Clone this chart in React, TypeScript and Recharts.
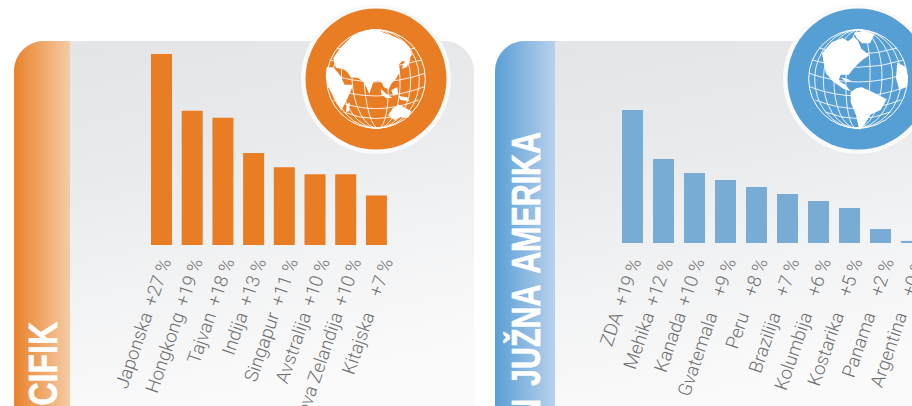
import { BarChart, Bar, XAxis, YAxis } from 'recharts';

const asiaCountries = ['Japonska', 'Hongkong', 'Tajvan', 'Indija', 'Singapur', 'Avstralija', 'Nova Zelandija', 'Kitajska'];
const asiaValues = [27, 19, 18, 13, 11, 10, 10, 7];
const asiaLabels = ['+27 %', '+19 %', '+18 %', '+13 %', '+11 %', '+10 %', '+10 %', '+7 %'];

const americaCountries = ['ZDA', 'Mehika', 'Kanada', 'Gvatemala', 'Peru', 'Brazilija', 'Kolumbija', 'Kostarika', 'Panama', 'Argentina'];
const americaValues = [19, 12, 10, 9, 8, 7, 6, 5, 2, 0.3];
const americaLabels = ['+19 %', '+12 %', '+10 %', '+9 %', '+8 %', '+7 %', '+6 %', '+5 %', '+2 %', '+0 %'];

const ORANGE = '#E87D24';
const BLUE = '#78ACD5';
const GLOBE_BLUE = '#569FD5';

const asiaLand = [
  'M52 122 L70 96 L88 76 L112 54 L135 44 L165 38 L192 42 L220 52 L244 62 L266 74 L280 88 L288 112 L276 130 L258 132 L248 142 L252 164 L240 184 L227 198 L218 216 L204 210 L196 194 L184 190 L172 194 L160 230 L150 208 L143 194 L126 182 L104 180 L94 164 L80 154 L60 152 Z',
  'M32 150 L52 150 L72 174 L86 202 L112 202 L102 226 L92 248 L76 280 L60 256 L48 230 L35 206 L29 176 Z',
  'M216 294 L230 274 L248 262 L264 270 L286 282 L276 302 L254 300 L236 308 Z',
  'M92 262 L102 256 L99 282 L90 284 Z',
  'M274 116 L284 126 L272 150 L258 154 L262 140 Z',
  'M194 214 L214 232 L230 242 L210 242 L196 230 Z',
  'M226 218 L244 210 L246 230 L232 236 Z',
  'M246 236 L274 240 L280 252 L254 248 Z',
];

const americaLand = [
  'M72 108 L102 74 L134 62 L150 72 L168 58 L180 70 L190 94 L214 114 L196 126 L182 138 L168 152 L152 172 L128 172 L122 190 L142 202 L158 222 L136 214 L104 192 L84 168 L76 132 Z',
  'M168 46 L196 40 L230 50 L216 78 L192 78 L176 62 Z',
  'M158 224 L176 212 L192 210 L228 226 L266 246 L248 278 L218 292 L198 324 L184 338 L174 294 L158 254 Z',
  'M298 136 L322 148 L330 176 L328 206 L304 218 L294 182 Z',
  'M128 180 L150 186 L160 191 L140 190 Z',
];

const meridians = [0, 36, 72, 104, 130];
const parallels = [
  { y: 92, half: 118, sag: 18 },
  { y: 128, half: 138, sag: 22 },
  { y: 168, half: 147, sag: 26 },
  { y: 208, half: 146, sag: 28 },
  { y: 248, half: 128, sag: 26 },
  { y: 284, half: 98, sag: 20 },
];

const Globe = ({ left, top, color, land, tilt }: { left: number; top: number; color: string; land: string[]; tilt: number }) => (
  <div style={{ position: 'absolute', left: left - 75, top: top - 75, width: 150, height: 150, borderRadius: '50%', background: '#FAFAFA' }}>
    <svg width={150} height={150} viewBox="0 0 150 150" style={{ position: 'absolute', left: 0, top: 0 }}>
      <circle cx={75} cy={75} r={70.5} fill={color} />
      <g transform="translate(15 13.3) scale(0.3333)">
        <circle cx={180} cy={185} r={148} fill="none" stroke="#fff" strokeWidth={3} />
        <g transform={`rotate(${tilt} 180 185)`} fill="none" stroke="#fff" strokeWidth={2.6}>
          {meridians.map((rx) => (
            <ellipse key={rx} cx={180} cy={185} rx={rx} ry={148} />
          ))}
        </g>
        <g fill="none" stroke="#fff" strokeWidth={2.6}>
          {parallels.map((p) => (
            <path key={p.y} d={`M${180 - p.half} ${p.y} Q180 ${p.y + p.sag * 2} ${180 + p.half} ${p.y}`} />
          ))}
        </g>
        {land.map((d) => (
          <path key={d} d={d} fill="#fff" />
        ))}
      </g>
    </svg>
  </div>
);

// vrednost in ime sta loceni koloni, kot v tabeli
const makeTick = (labels: string[], shift: number, drift: number) => (props: any) => {
  const { x, y, index, payload } = props;
  const px = x + shift + index * drift;
  return (
    <g transform={`translate(${px} ${y}) rotate(-71)`} fontFamily="Roboto, 'Liberation Sans', sans-serif" fontWeight={300} fontSize={18.5} fill="#707070">
      <text x={0} y={0} textAnchor="end">{labels[index]}</text>
      <text x={-57} y={0} textAnchor="end">{payload.value}</text>
    </g>
  );
};

const RegionChart = ({ names, values, labels, color, left, width, marginLeft, marginRight, marginTop, axisHeight, max, tickShift, tickDrift, tickMargin }: any) => {
  const data = names.map((name: string, i: number) => ({ name, value: values[i] }));
  return (
    <div style={{ position: 'absolute', left, top: 0 }}>
      <BarChart width={width} height={406} data={data} margin={{ top: marginTop, right: marginRight, bottom: 0, left: marginLeft }}>
        <XAxis
          dataKey="name"
          axisLine={false}
          tickLine={false}
          tickSize={0}
          tickMargin={tickMargin}
          interval={0}
          height={axisHeight}
          tick={makeTick(labels, tickShift, tickDrift)}
        />
        <YAxis hide domain={[0, max]} />
        <Bar dataKey="value" fill={color} barSize={21} isAnimationActive={false} />
      </BarChart>
    </div>
  );
};

const Panel = ({ left, width, stripWidth, from, to, radius }: any) => (
  <div
    style={{
      position: 'absolute',
      left,
      top: 41,
      width,
      height: 400,
      borderRadius: `${radius}px ${radius}px 0 0`,
      overflow: 'hidden',
      background: 'linear-gradient(168deg, #E3E4E6 0%, #E9EAEB 30%, #F2F3F4 55%, #FAFAFB 80%)',
    }}
  >
    <div style={{ width: stripWidth, height: '100%', background: `linear-gradient(90deg, ${from} 0%, ${to} 100%)` }} />
  </div>
);

export default function App() {
  return (
    <div style={{ position: 'absolute', left: 0, top: 0, width: 912, height: 406, overflow: 'hidden', background: '#fff' }}>
      <Panel left={14} width={460} stripWidth={56} from="#E9822B" to="#F5CCA5" radius={30} />
      <Panel left={495} width={460} stripWidth={60} from="#5A9FD6" to="#B8D1EC" radius={30} />

      <svg width={912} height={406} style={{ position: 'absolute', left: 0, top: 0 }}>
        <g fontFamily="'Liberation Sans', sans-serif" fontWeight={700} fontSize={40} fill="#fff" stroke="#fff" strokeWidth={0.6}>
          <text transform="translate(57 322) rotate(-90) scale(0.8 1)" textAnchor="end">AZIJA IN PACIFIK</text>
          <text transform="translate(539.5 132) rotate(-90) scale(0.76 1)" textAnchor="end" wordSpacing={6}>SEVERNA IN JUŽNA AMERIKA</text>
        </g>
      </svg>

      <Globe left={376} top={79} color={ORANGE} land={asiaLand} tilt={-3} />
      <Globe left={858} top={79} color={GLOBE_BLUE} land={americaLand} tilt={2} />

      <RegionChart
        names={asiaCountries}
        values={asiaValues}
        labels={asiaLabels}
        color={ORANGE}
        left={0}
        width={456}
        marginLeft={146}
        marginRight={64.4}
        marginTop={47}
        axisHeight={161}
        max={28}
        tickShift={10}
        tickDrift={1}
        tickMargin={16}
      />
      <RegionChart
        names={americaCountries}
        values={americaValues}
        labels={americaLabels}
        color={BLUE}
        left={456}
        width={500}
        marginLeft={161}
        marginRight={29}
        marginTop={103}
        axisHeight={163}
        max={20}
        tickShift={9}
        tickDrift={0.6}
        tickMargin={18}
      />
    </div>
  );
}
